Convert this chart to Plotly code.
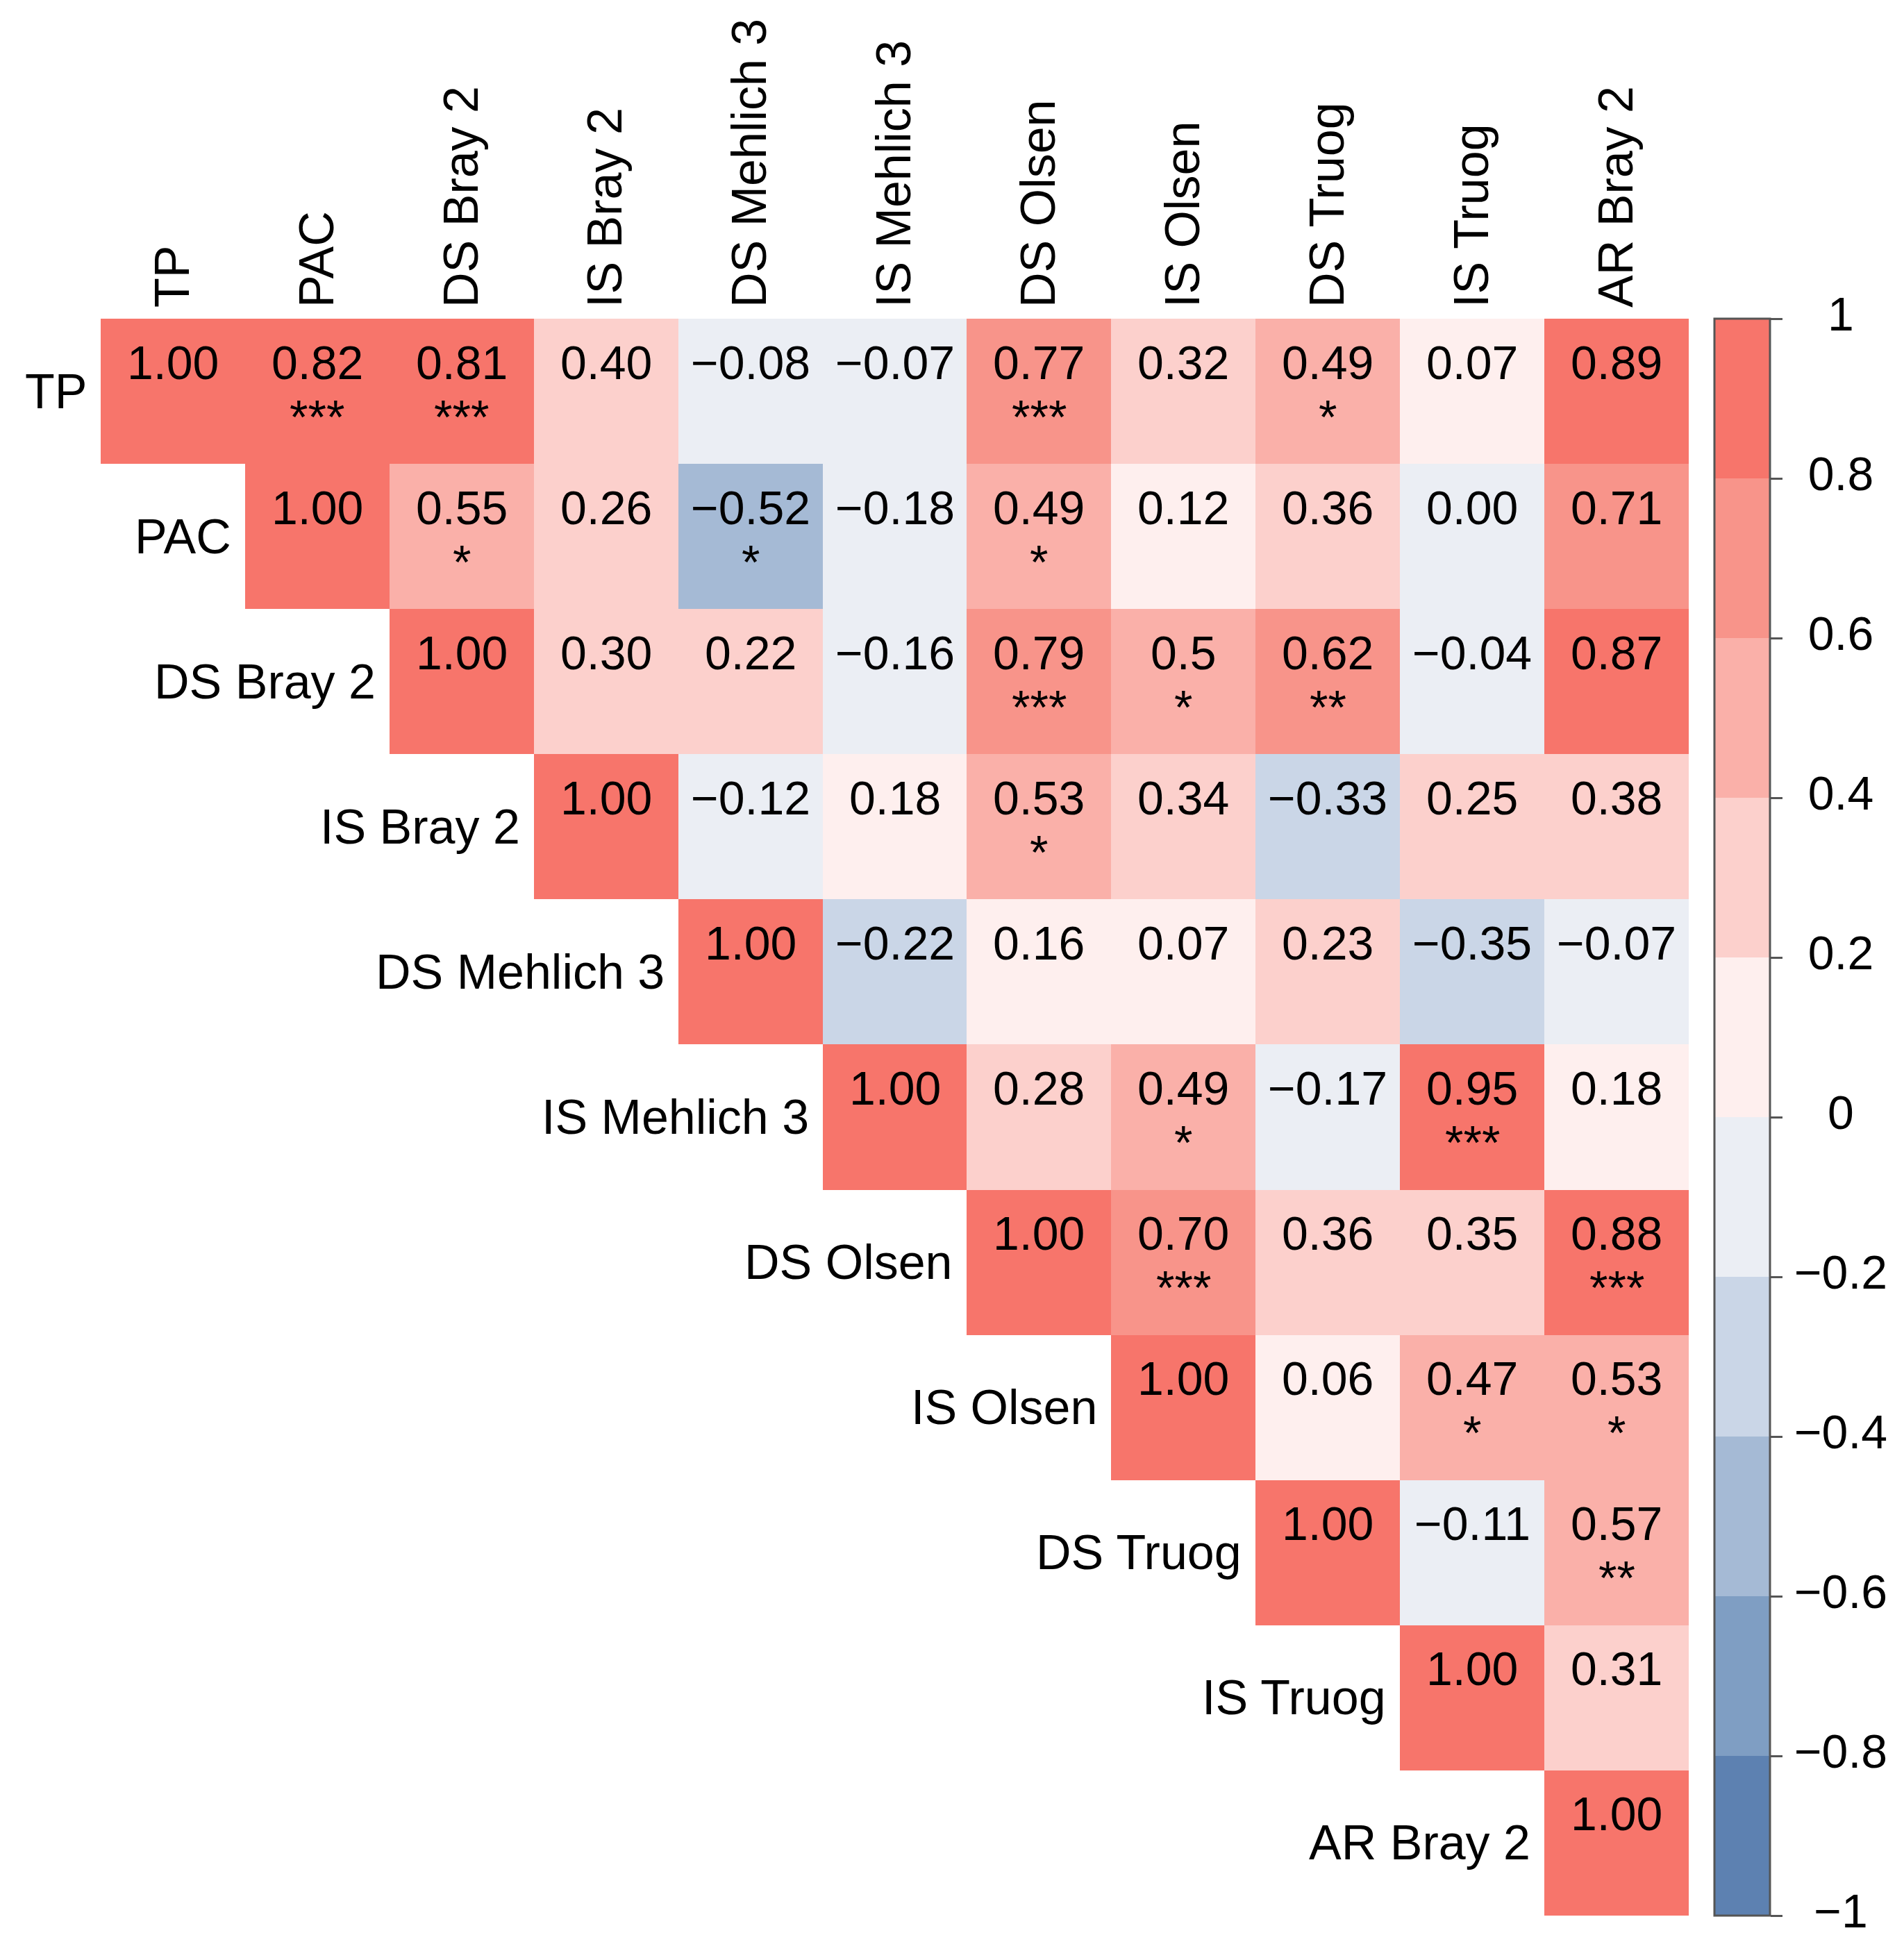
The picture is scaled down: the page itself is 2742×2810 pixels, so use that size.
import plotly.graph_objects as go

variables = ["TP", "PAC", "DS Bray 2", "IS Bray 2", "DS Mehlich 3", "IS Mehlich 3",
             "DS Olsen", "IS Olsen", "DS Truog", "IS Truog", "AR Bray 2"]

# upper triangle of the correlation matrix, each row starts at the diagonal
r_tp = ["1.00", "0.82", "0.81", "0.40", "-0.08", "-0.07", "0.77", "0.32", "0.49", "0.07", "0.89"]
r_pac = ["1.00", "0.55", "0.26", "-0.52", "-0.18", "0.49", "0.12", "0.36", "0.00", "0.71"]
r_ds_bray = ["1.00", "0.30", "0.22", "-0.16", "0.79", "0.5", "0.62", "-0.04", "0.87"]
r_is_bray = ["1.00", "-0.12", "0.18", "0.53", "0.34", "-0.33", "0.25", "0.38"]
r_ds_meh = ["1.00", "-0.22", "0.16", "0.07", "0.23", "-0.35", "-0.07"]
r_is_meh = ["1.00", "0.28", "0.49", "-0.17", "0.95", "0.18"]
r_ds_olsen = ["1.00", "0.70", "0.36", "0.35", "0.88"]
r_is_olsen = ["1.00", "0.06", "0.47", "0.53"]
r_ds_truog = ["1.00", "-0.11", "0.57"]
r_is_truog = ["1.00", "0.31"]
r_ar_bray = ["1.00"]

# significance stars, same layout
s_tp = ["", "***", "***", "", "", "", "***", "", "*", "", ""]
s_pac = ["", "*", "", "*", "", "*", "", "", "", ""]
s_ds_bray = ["", "", "", "", "***", "*", "**", "", ""]
s_is_bray = ["", "", "", "*", "", "", "", ""]
s_ds_meh = ["", "", "", "", "", "", ""]
s_is_meh = ["", "", "*", "", "***", ""]
s_ds_olsen = ["", "***", "", "", "***"]
s_is_olsen = ["", "", "*", "*"]
s_ds_truog = ["", "", "**"]
s_is_truog = ["", ""]
s_ar_bray = [""]

rows = [r_tp, r_pac, r_ds_bray, r_is_bray, r_ds_meh, r_is_meh,
        r_ds_olsen, r_is_olsen, r_ds_truog, r_is_truog, r_ar_bray]
stars = [s_tp, s_pac, s_ds_bray, s_is_bray, s_ds_meh, s_is_meh,
         s_ds_olsen, s_is_olsen, s_ds_truog, s_is_truog, s_ar_bray]

cb_ticks = [1, 0.8, 0.6, 0.4, 0.2, 0, -0.2, -0.4, -0.6, -0.8, -1]
cb_labels = ["1", "0.8", "0.6", "0.4", "0.2", "0", "−0.2", "−0.4", "−0.6", "−0.8", "−1"]

# 10 bins from -1 to 1
bin_colors = ["#5d81b1", "#7f9ec3", "#a5bad5", "#cad6e7", "#ebeef4",
              "#feefee", "#fcd0cc", "#fab0a9", "#f8948a", "#f7756b"]

FONT = "Liberation Sans, Arial, sans-serif"
W, H = 2742, 2810

n = len(variables)
z = [[None] * n for _ in range(n)]
cells = []
for i, (vals, sig) in enumerate(zip(rows, stars)):
    for k, (v, s) in enumerate(zip(vals, sig)):
        j = i + k
        z[i][j] = float(v)
        cells.append((j, i, v.replace("-", "−"), s))

# right-closed bins: a value on a boundary takes the lower colour
eps = 1e-4
colorscale = []
for b, c in enumerate(bin_colors):
    lo = b / 10
    colorscale.append([lo if b == 0 else lo + eps, c])
    colorscale.append([(b + 1) / 10, c])

x_dom = [137 / W, 2424 / W]
y_dom = [1 - 2751 / H, 1 - 451 / H]

fig = go.Figure()
fig.add_trace(go.Heatmap(
    z=z, x=list(range(n)), y=list(range(n)),
    colorscale=colorscale, zmin=-1, zmax=1, hoverongaps=False,
    colorbar=dict(
        x=2461 / W, xanchor="left", xpad=0,
        y=y_dom[0], yanchor="bottom", ypad=0,
        len=y_dom[1] - y_dom[0], lenmode="fraction",
        thickness=80, outlinewidth=3, outlinecolor="#555555",
        tickvals=cb_ticks, showticklabels=False,
        ticks="outside", ticklen=17, tickwidth=3, tickcolor="#555555",
    ),
))
# colorbar labels, centred on their own little axis
fig.add_trace(go.Scatter(
    x=[0.5] * len(cb_ticks), y=cb_ticks, text=cb_labels, mode="text",
    textposition="middle center", xaxis="x2", yaxis="y2", cliponaxis=False,
    textfont=dict(family=FONT, size=68, color="black"), hoverinfo="skip",
    showlegend=False,
))

# coefficient above the centre of the cell, stars below it
for x, y, txt, s in cells:
    fig.add_annotation(x=x, y=y, xref="x", yref="y", text=txt, showarrow=False,
                       yanchor="middle", yshift=42,
                       font=dict(family=FONT, size=68, color="black"))
    if s:
        fig.add_annotation(x=x, y=y, xref="x", yref="y", text=s, showarrow=False,
                           yanchor="middle", yshift=-36,
                           font=dict(family=FONT, size=68, color="black"))

# row names sit just left of the diagonal cell
for i, name in enumerate(variables):
    fig.add_annotation(x=i - 0.5, y=i, xref="x", yref="y", text=name,
                       showarrow=False, xanchor="right", yanchor="middle", xshift=-18,
                       font=dict(family=FONT, size=70, color="black"))

fig.update_layout(
    width=W, height=H,
    margin=dict(l=0, r=0, t=0, b=0, autoexpand=False),
    plot_bgcolor="white", paper_bgcolor="white",
    showlegend=False,
    xaxis=dict(domain=x_dom, range=[-0.5, n - 0.5], side="top",
               tickvals=list(range(n)), ticktext=variables, tickangle=-90,
               tickfont=dict(family=FONT, size=70, color="black"),
               showgrid=False, zeroline=False, showline=False, ticks="",
               ticklabelstandoff=15),
    yaxis=dict(domain=y_dom, range=[n - 0.5, -0.5], showticklabels=False,
               showgrid=False, zeroline=False, showline=False, ticks=""),
    xaxis2=dict(domain=[2570 / W, 2716 / W], range=[0, 1], anchor="y2", visible=False),
    yaxis2=dict(domain=y_dom, range=[-1, 1], anchor="x2", visible=False),
)

fig.write_html("out.html")
